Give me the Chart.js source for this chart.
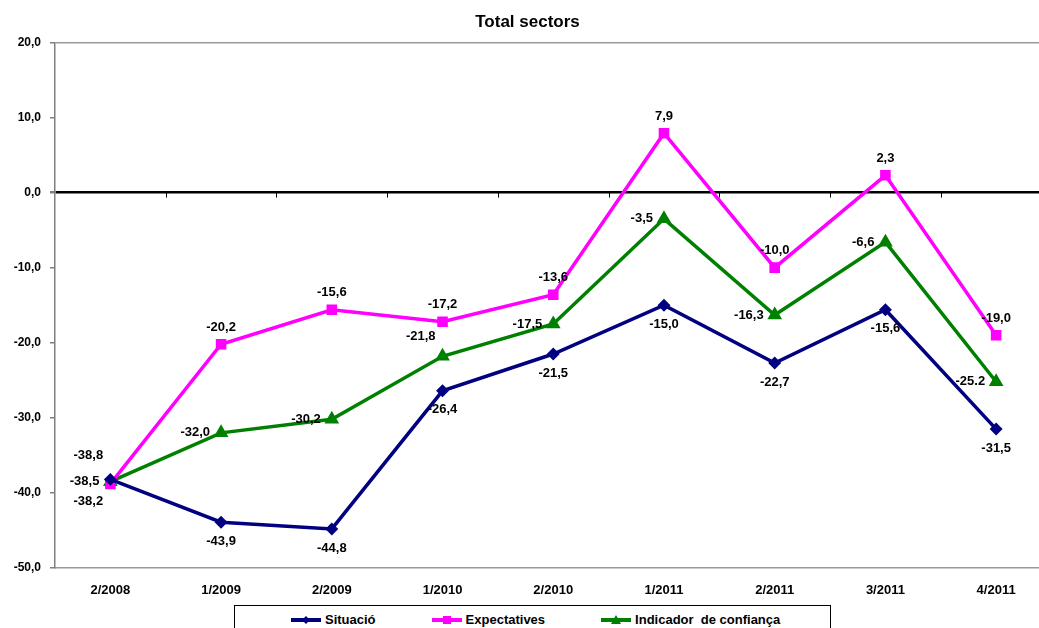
<!DOCTYPE html>
<html>
<head>
<meta charset="utf-8">
<script src="https://cdn.jsdelivr.net/npm/chart.js@4/dist/chart.umd.min.js"></script>
<style>
    html, body { margin: 0; padding: 0; background: #fff; }
    #wrap { width: 1039px; height: 628px; overflow: hidden; position: relative; }
    #wrap canvas { display: block; }
    #legend {
        position: absolute; left: 234px; top: 605px; width: 597px; height: 40px;
        border: 1px solid #000; box-sizing: border-box; background: #fff;
        display: flex; align-items: flex-start; padding: 6px 0 0 56px;
        font: bold 13px 'Liberation Sans', Arial, sans-serif; color: #000;
    }
    #legend .item { display: flex; align-items: center; margin-right: 56px; line-height: 16px; white-space: pre; }
    #legend canvas { margin-right: 4px; }
</style>
</head>
<body>
<div id="wrap">
    <canvas id="totalSectors" width="1060" height="628"></canvas>
    <div id="legend"></div>
</div>
<script>
const periods = ['2/2008', '1/2009', '2/2009', '1/2010', '2/2010', '1/2011', '2/2011', '3/2011', '4/2011'];
const situacio = [-38.2, -43.9, -44.8, -26.4, -21.5, -15.0, -22.7, -15.6, -31.5];
const expectatives = [-38.8, -20.2, -15.6, -17.2, -13.6, 7.9, -10.0, 2.3, -19.0];
const indicador = [-38.5, -32.0, -30.2, -21.8, -17.5, -3.5, -16.3, -6.6, -25.2];
const seriesNames = ['Situació', 'Expectatives', 'Indicador  de confiança'];
const yTicks = [20, 10, 0, -10, -20, -30, -40, -50];

const FONT = "'Liberation Sans', Arial, sans-serif";
const NAVY = '#000080';
const MAGENTA = '#ff00ff';
const GREEN = '#008000';

function fmt(v) {
    return v.toFixed(1).replace('.', ',');
}

// line + marker picture for the legend, Excel style
function swatch(color, shape) {
    const c = document.createElement('canvas');
    c.width = 30;
    c.height = 12;
    const g = c.getContext('2d');
    g.strokeStyle = color;
    g.fillStyle = color;
    g.lineWidth = 4;
    g.beginPath();
    g.moveTo(0, 6);
    g.lineTo(30, 6);
    g.stroke();
    g.beginPath();
    if (shape === 'diamond') {
        g.moveTo(15, 2); g.lineTo(19, 6); g.lineTo(15, 10); g.lineTo(11, 6);
    } else if (shape === 'square') {
        g.rect(11, 2, 8, 8);
    } else {
        g.moveTo(15, 1); g.lineTo(20, 10); g.lineTo(10, 10);
    }
    g.closePath();
    g.fill();
    return c;
}

const pointLabels = {
    id: 'pointLabels',
    afterDatasetsDraw(chart, args, opts) {
        const ctx = chart.ctx;
        ctx.save();
        ctx.font = 'bold 13px ' + FONT;
        ctx.fillStyle = '#000';
        ctx.textBaseline = 'middle';
        chart.data.datasets.forEach((ds, di) => {
            const place = opts.places[di];
            chart.getDatasetMeta(di).data.forEach((pt, i) => {
                const p = (place.except && place.except[i]) || place;
                const text = (opts.texts[di] && opts.texts[di][i]) || fmt(ds.data[i]);
                ctx.textAlign = p.align || place.align || 'center';
                ctx.fillText(text, pt.x + p.dx, pt.y + p.dy);
            });
        });
        ctx.restore();
    }
};

const zeroTicks = {
    id: 'zeroTicks',
    beforeDatasetsDraw(chart) {
        // little ticks hanging under the zero line between the categories
        const ctx = chart.ctx;
        const x = chart.scales.x;
        const y0 = chart.scales.y.getPixelForValue(0);
        const n = periods.length;
        ctx.save();
        ctx.strokeStyle = '#000';
        ctx.lineWidth = 1;
        for (let i = 1; i < n; i++) {
            const px = Math.round(x.left + i * x.width / n) + 0.5;
            ctx.beginPath();
            ctx.moveTo(px, y0);
            ctx.lineTo(px, y0 + 5);
            ctx.stroke();
        }
        ctx.restore();
    }
};

function draw() {
    const chart = new Chart(document.getElementById('totalSectors'), {
        type: 'line',
        data: {
            labels: periods,
            datasets: [{
                label: seriesNames[0],
                data: situacio,
                borderColor: NAVY,
                backgroundColor: NAVY,
                borderWidth: 3.5,
                pointStyle: 'rectRot',
                pointRadius: 4,
                tension: 0
            }, {
                label: seriesNames[1],
                data: expectatives,
                borderColor: MAGENTA,
                backgroundColor: MAGENTA,
                borderWidth: 3.5,
                pointStyle: 'rect',
                pointRadius: 5,
                tension: 0
            }, {
                label: seriesNames[2],
                data: indicador,
                borderColor: GREEN,
                backgroundColor: GREEN,
                borderWidth: 3.5,
                pointStyle: 'triangle',
                pointRadius: 5,
                tension: 0
            }]
        },
        options: {
            responsive: false,
            animation: false,
            layout: { padding: { top: 2, right: 5, left: 0, bottom: 0 } },
            plugins: {
                title: {
                    display: true,
                    text: 'Total sectors',
                    color: '#000',
                    font: { family: FONT, size: 17, weight: 'bold' },
                    padding: { top: 10, bottom: 10 }
                },
                legend: { display: false },
                tooltip: { enabled: false },
                pointLabels: {
                    places: [
                        { dx: 0, dy: 19, except: { 0: { dx: -22, dy: 22 } } },
                        { dx: 0, dy: -17, except: { 0: { dx: -22, dy: -28 } } },
                        { dx: -11, dy: 0, align: 'right', except: { 3: { dx: -7, dy: -20 } } }
                    ],
                    texts: [null, null, [null, null, null, null, null, null, null, null, '-25.2']]
                }
            },
            scales: {
                x: {
                    offset: true,
                    grid: { display: false, drawTicks: false, offset: true },
                    border: { display: true, color: '#999', width: 1.5 },
                    ticks: {
                        color: '#000',
                        padding: 15,
                        maxRotation: 0,
                        font: { family: FONT, size: 13, weight: 'bold' }
                    },
                    afterFit(scale) { scale.height = 60; }
                },
                y: {
                    min: -50,
                    max: 20,
                    afterBuildTicks(scale) { scale.ticks = yTicks.map(v => ({ value: v })); },
                    grid: {
                        drawOnChartArea: true,
                        tickLength: 5,
                        tickColor: '#808080',
                        color(ctx) {
                            if (!ctx.tick) return 'transparent';
                            if (ctx.tick.value === 0) return '#000';
                            if (ctx.tick.value === 20) return '#999';
                            return 'transparent';
                        },
                        lineWidth(ctx) {
                            return ctx.tick && ctx.tick.value === 0 ? 2.5 : 1.5;
                        }
                    },
                    border: { display: true, color: '#808080', width: 1.5 },
                    ticks: {
                        color: '#000',
                        padding: 9,
                        font: { family: FONT, size: 12, weight: 'bold' },
                        callback: (v) => fmt(v)
                    },
                    afterFit(scale) { scale.width = 55; }
                }
            }
        },
        plugins: [pointLabels, zeroTicks]
    });

    // HTML legend with Excel-like line + marker keys
    const legendEl = document.getElementById('legend');
    const shapes = ['diamond', 'square', 'triangle'];
    chart.data.datasets.forEach((ds, i) => {
        const item = document.createElement('span');
        item.className = 'item';
        item.appendChild(swatch(ds.borderColor, shapes[i]));
        item.appendChild(document.createTextNode(ds.label));
        legendEl.appendChild(item);
    });
}

if (document.fonts && document.fonts.load) {
    document.fonts.load("bold 13px 'Liberation Sans'").then(draw, draw);
} else {
    draw();
}
</script>
</body>
</html>
